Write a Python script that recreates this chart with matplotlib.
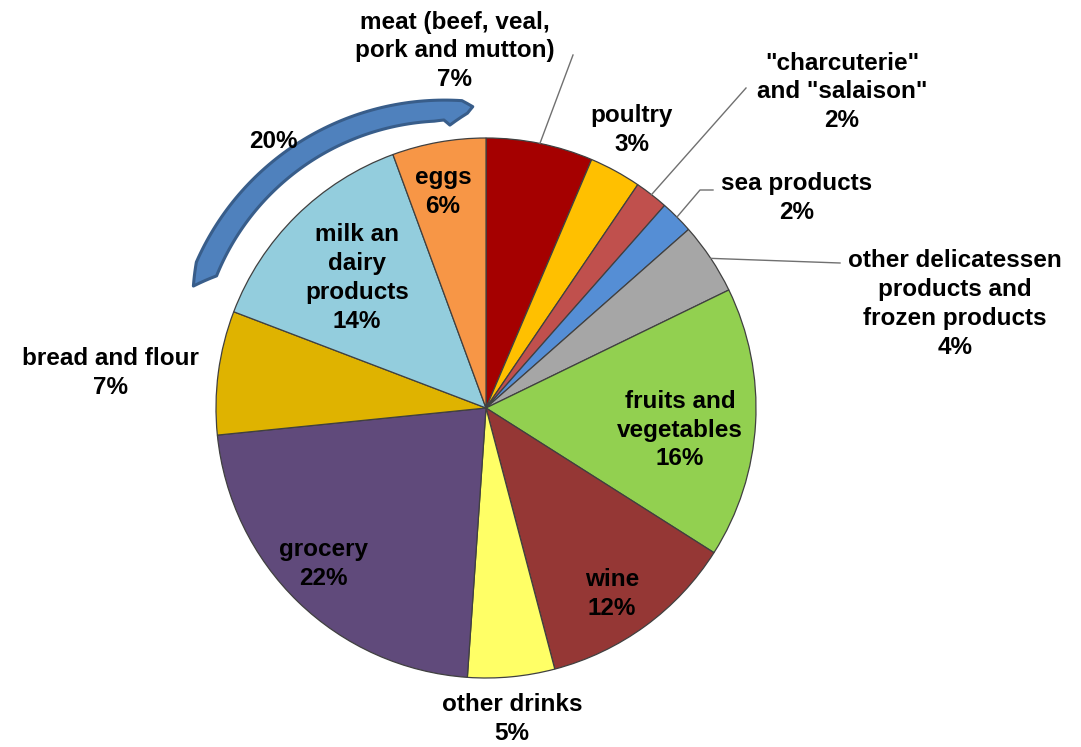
import numpy as np
import matplotlib
matplotlib.use("Agg")
import matplotlib.pyplot as plt
from matplotlib.patches import Polygon

# pie data, clockwise from 12 o'clock
cats = ["meat (beef, veal,\npork and mutton)", "poultry", "\"charcuterie\"\nand \"salaison\"",
        "sea products", "other delicatessen\nproducts and\nfrozen products", "fruits and\nvegetables",
        "wine", "other drinks", "grocery", "bread and flour", "milk an\ndairy\nproducts", "eggs"]
vals = [6.4, 3.1, 2.0, 2.0, 4.3, 16.2, 11.9, 5.2, 22.3, 7.4, 13.6, 5.6]
pct_lbl = ["7%", "3%", "2%", "2%", "4%", "16%", "12%", "5%", "22%", "7%", "14%", "6%"]
colors = ["#A50000", "#FFC000", "#C0504D", "#558ED5", "#A6A6A6", "#92D050",
          "#953735", "#FFFF66", "#604A7B", "#DFB300", "#93CDDD", "#F79646"]
group_lbl = "20%"

W, H = 1081, 747
cx, cy, R = 486, H - 408, 270

def px(x, y):
    return (x, H - y)

fig = plt.figure(figsize=(W / 100, H / 100), dpi=100)
ax = fig.add_axes([0, 0, 1, 1])
wedges, _ = ax.pie(vals, colors=colors, startangle=90, counterclock=False,
                   center=(cx, cy), radius=R, frame=True,
                   wedgeprops=dict(edgecolor="#404040", linewidth=0.9))
ax.set_xlim(0, W)
ax.set_ylim(0, H)
ax.set_aspect("equal")
ax.axis("off")

# label positions (pixel coords of text block centre)
lbl_pos = [(455, 51), (632, 130), (842, 92), (797, 198), (955, 304), (680, 430),
           (612, 594), (512, 719), (323, 564), (110, 373), (357, 278), (443, 192)]
font = dict(family=["Liberation Sans", "DejaVu Sans"], fontweight="bold", fontsize=17.5)
for c, p, (x, y) in zip(cats, pct_lbl, lbl_pos):
    ax.text(*px(x, y), c + "\n" + p, ha="center", va="center", linespacing=1.32, **font)

# leader lines for outside labels
def edge_pt(i, r=R):
    w = wedges[i]
    th = np.deg2rad((w.theta1 + w.theta2) / 2)
    return cx + r * np.cos(th), cy + r * np.sin(th)

leaders = {0: [(573, 55)], 2: [(746, 88)], 3: [(700, 190), (713, 190)], 4: [(840, 263)]}
for i, pts in leaders.items():
    x0, y0 = edge_pt(i)
    xs = [x0] + [p[0] for p in pts]
    ys = [y0] + [H - p[1] for p in pts]
    ax.plot(xs, ys, color="#707070", lw=1)

# curved blue arrow over milk + eggs, outline as (angle, radius) around its own centre
acx, acy = px(443, 372)
arrow_outline = [(161, 264), (156, 270), (86, 272),
                 (83.6, 267), (84.6, 260), (88.4, 247), (89.8, 252),
                 (92, 251), (157, 246)]
pts = []
for (t0, r0), (t1, r1) in zip(arrow_outline, arrow_outline[1:] + arrow_outline[:1]):
    n = max(2, int(abs(t1 - t0)))
    for t, r in zip(np.linspace(t0, t1, n, endpoint=False), np.linspace(r0, r1, n, endpoint=False)):
        pts.append((acx + r * np.cos(np.deg2rad(t)), acy + r * np.sin(np.deg2rad(t))))
ax.add_patch(Polygon(pts, closed=True, facecolor="#4F81BD", edgecolor="#385D8A",
                     lw=2.2, joinstyle="round"))
ax.text(*px(273, 142), group_lbl, ha="center", va="center", **font)

fig.savefig("out.png", dpi=100)
